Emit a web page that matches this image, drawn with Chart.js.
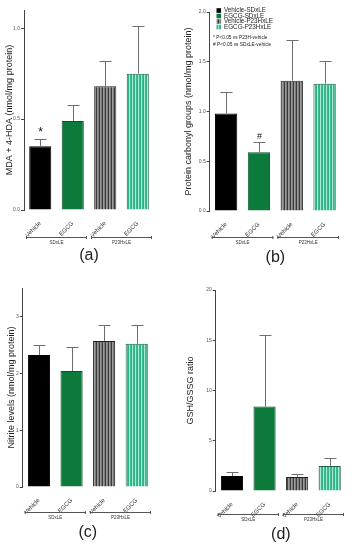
<!DOCTYPE html>
<html>
<head>
<meta charset="utf-8">
<script src="https://cdn.jsdelivr.net/npm/chart.js@4"></script>
<style>
  body{margin:0;background:#fff;}
  #wrap{position:relative;width:352px;height:550px;overflow:hidden;}
  .panel{position:absolute;width:176px;height:275px;}
</style>
</head>
<body>
<div id="wrap">
  <div class="panel" style="left:0;top:0"><canvas id="chartA" width="176" height="275"></canvas></div>
  <div class="panel" style="left:176px;top:0"><canvas id="chartB" width="176" height="275"></canvas></div>
  <div class="panel" style="left:0;top:275px"><canvas id="chartC" width="176" height="275"></canvas></div>
  <div class="panel" style="left:176px;top:275px"><canvas id="chartD" width="176" height="275"></canvas></div>
</div>
<script>
// data
const categories = ['Vehicle', 'EGCG', 'Vehicle', 'EGCG'];
const groupLabels = ['SDxLE', 'P23HxLE'];
const seriesNames = ['Vehicle-SDxLE', 'EGCG-SDxLE', 'Vehicle-P23HxLE', 'EGCG-P23HxLE'];
const notes = ['* P<0.05 vs P23H-vehicle', '# P<0.05 vs SDxLE-vehicle'];

const mdaValues = [0.35, 0.49, 0.68, 0.75];
const mdaErrors = [0.04, 0.09, 0.14, 0.26];
const mdaMarks = ['*', '', '', ''];

const carbonylValues = [0.98, 0.59, 1.31, 1.28];
const carbonylErrors = [0.22, 0.10, 0.41, 0.23];
const carbonylMarks = ['', '#', '', ''];

const nitriteValues = [2.32, 2.04, 2.57, 2.52];
const nitriteErrors = [0.18, 0.43, 0.28, 0.33];

const gshValues = [1.5, 8.4, 1.4, 2.5];
const gshErrors = [0.4, 7.1, 0.3, 0.8];

const FONT = "'Liberation Sans', Arial, sans-serif";

// striped fills for P23H bars
function stripes(cols){
  const c = document.createElement('canvas');
  c.width = cols.length; c.height = 4;
  const g = c.getContext('2d');
  cols.forEach((col, i) => { g.fillStyle = col; g.fillRect(i, 0, 1, 4); });
  return g.createPattern(c, 'repeat');
}
const fills = [
  '#000000',
  '#0b7a3b',
  stripes(['#3a3a3a', '#9a9a9a', '#7c7c7c']),
  stripes(['#a8ead3', '#3bbb91', '#34b089'])
];
const borders = ['#000000', '#0a4f28', '#222222', '#1e5e48'];

function makeChart(id, o){
  const extras = {
    id: 'extras',
    afterDatasetsDraw(chart){
      const ctx = chart.ctx, x = chart.scales.x, y = chart.scales.y;
      const meta = chart.getDatasetMeta(0);
      ctx.save();
      // error bars (upper only)
      ctx.strokeStyle = '#6e6e6e'; ctx.lineWidth = 1;
      o.values.forEach((v, i) => {
        const px = Math.round(meta.data[i].x) + 0.5;
        const yb = y.getPixelForValue(v), yt = Math.round(y.getPixelForValue(v + o.errors[i])) + 0.5;
        ctx.beginPath();
        ctx.moveTo(px, yb); ctx.lineTo(px, yt);
        ctx.moveTo(px - 6, yt); ctx.lineTo(px + 6, yt);
        ctx.stroke();
        const m = (o.marks || [])[i];
        if(m){
          ctx.fillStyle = '#111';
          ctx.font = (m === '*' ? '12px ' : '9px ') + FONT;
          ctx.textAlign = 'center'; ctx.textBaseline = 'alphabetic';
          ctx.fillText(m, px, yt - 4);
        }
      });
      // group brackets
      const half = (x.getPixelForValue(1) - x.getPixelForValue(0)) / 2;
      ctx.strokeStyle = '#555'; ctx.fillStyle = '#333';
      ctx.font = '4.5px ' + FONT; ctx.textAlign = 'center'; ctx.textBaseline = 'middle';
      groupLabels.forEach((g, k) => {
        const x0 = x.getPixelForValue(k*2) - half + 2, x1 = x.getPixelForValue(k*2+1) + half - 2;
        const by = o.bracketY + 0.5;
        ctx.beginPath();
        ctx.moveTo(x0, by); ctx.lineTo(x1, by);
        ctx.moveTo(x0 + 0.5, by - 1.5); ctx.lineTo(x0 + 0.5, by + 1.5);
        ctx.moveTo(x1 - 0.5, by - 1.5); ctx.lineTo(x1 - 0.5, by + 1.5);
        ctx.stroke();
        ctx.fillText(g, (x0 + x1) / 2, by + 5);
      });
      // panel label
      ctx.fillStyle = '#222'; ctx.font = '16px ' + FONT;
      ctx.fillText(o.label, (chart.chartArea.left + chart.chartArea.right) / 2, o.labelY);
      // legend + notes
      if(o.legend){
        ctx.textAlign = 'left'; ctx.textBaseline = 'middle';
        seriesNames.forEach((s, i) => {
          const ly = 10.5 + i*5.5;
          ctx.fillStyle = fills[i];
          ctx.fillRect(40.5, ly - 2.3, 4.6, 4.6);
          ctx.fillStyle = '#222'; ctx.font = '6.3px ' + FONT;
          ctx.fillText(s, 48, ly);
        });
        ctx.font = '4.8px ' + FONT;
        notes.forEach((n, i) => ctx.fillText(n, 37, 38 + i*6.5));
      }
      ctx.restore();
    }
  };

  return new Chart(document.getElementById(id).getContext('2d'), {
    type: 'bar',
    data: {
      labels: categories,
      datasets: [{
        data: o.values,
        backgroundColor: fills,
        borderColor: borders,
        borderWidth: 1,
        barPercentage: 0.68,
        categoryPercentage: 1
      }]
    },
    options: {
      responsive: false,
      animation: false,
      devicePixelRatio: 1,
      layout: { padding: { left: o.pad[0], top: o.pad[1], right: o.pad[2], bottom: 0 } },
      plugins: { legend: { display: false }, tooltip: { enabled: false } },
      scales: {
        x: {
          afterFit: s => { s.height = o.xHeight; },
          grid: { display: false },
          border: { display: false },
          ticks: { autoSkip: false, minRotation: 45, maxRotation: 45, padding: 2,
                   font: { size: 6, family: FONT }, color: '#333' }
        },
        y: {
          min: 0, max: o.yMax,
          afterFit: s => { s.width = o.yWidth; },
          afterBuildTicks: s => {
            s.ticks = s.ticks.filter(t => Math.abs(t.value / o.step - Math.round(t.value / o.step)) < 1e-6);
          },
          ticks: { stepSize: o.step, padding: 1, font: { size: 5, family: FONT }, color: '#555',
                   callback: v => v.toFixed(o.dec) },
          grid: { display: true, drawOnChartArea: false, tickLength: 3, color: '#444' },
          border: { display: true, color: '#444', width: 1 },
          title: { display: true, text: o.yTitle, color: '#222',
                   font: { size: 9, family: FONT }, padding: { top: o.titlePad, bottom: 0 } }
        }
      }
    },
    plugins: [extras]
  });
}

makeChart('chartA', {
  values: mdaValues, errors: mdaErrors, marks: mdaMarks,
  yTitle: 'MDA + 4-HDA (nmol/mg protein)', yMax: 1.1, step: 0.5, dec: 1,
  pad: [0, 10, 22], yWidth: 24, xHeight: 65, titlePad: 4.6,
  bracketY: 237, label: '(a)', labelY: 256
});
makeChart('chartB', {
  values: carbonylValues, errors: carbonylErrors, marks: carbonylMarks,
  yTitle: 'Protein carbonyl groups (nmol/mg protein)', yMax: 2.0, step: 0.5, dec: 1,
  pad: [0, 12, 11], yWidth: 33.7, xHeight: 64, titlePad: 7.6,
  bracketY: 237, label: '(b)', labelY: 258, legend: true
});
makeChart('chartC', {
  values: nitriteValues, errors: nitriteErrors,
  yTitle: 'Nitrite levels (nmol/mg protein)', yMax: 3.5, step: 1, dec: 0,
  pad: [0, 13, 23], yWidth: 22.7, xHeight: 63, titlePad: 6.6,
  bracketY: 237, label: '(c)', labelY: 258
});
makeChart('chartD', {
  values: gshValues, errors: gshErrors,
  yTitle: 'GSH/GSSG ratio', yMax: 20, step: 5, dec: 0,
  pad: [0, 15, 6], yWidth: 39.7, xHeight: 59, titlePad: 9.6,
  bracketY: 239, label: '(d)', labelY: 260
});
</script>
</body>
</html>
